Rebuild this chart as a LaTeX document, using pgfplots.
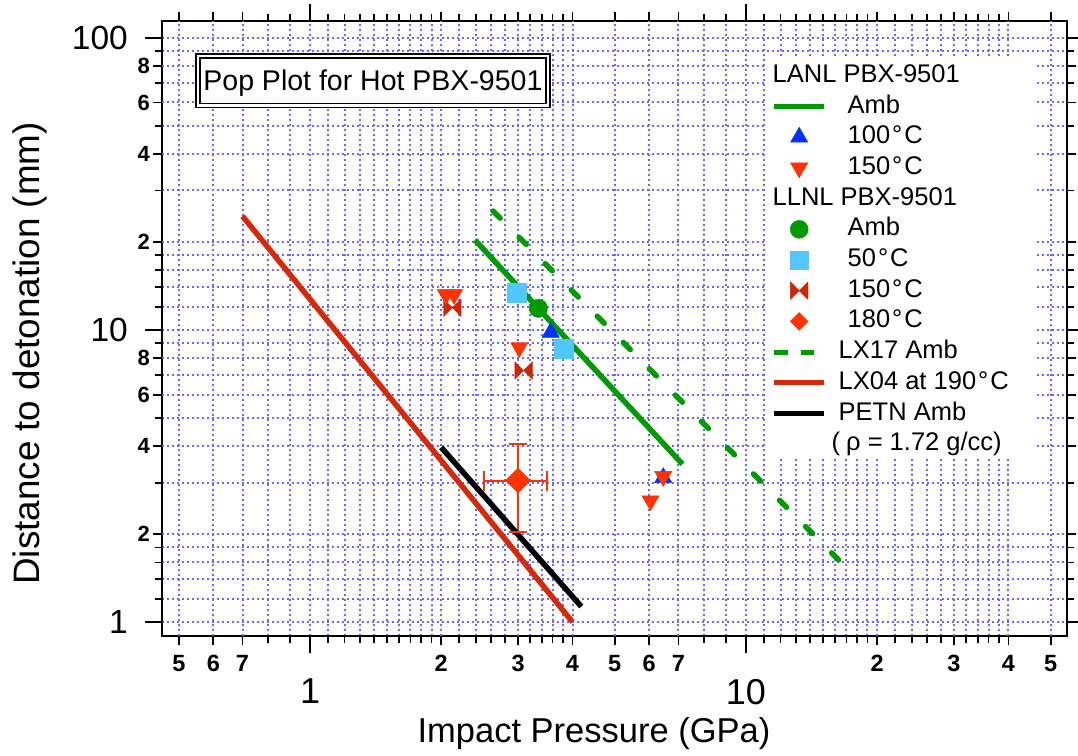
\documentclass[border=0pt]{standalone}
\usepackage{fontspec}
\setmainfont{Liberation Sans}
\usepackage{pgfplots}
\pgfplotsset{compat=1.18}
\usetikzlibrary{plotmarks}
\definecolor{ggreen}{RGB}{0,155,0}
\definecolor{bblue}{RGB}{0,50,255}
\definecolor{rred}{RGB}{255,50,0}
\definecolor{hgred}{RGB}{210,35,5}
\definecolor{lxred}{RGB}{215,40,10}
\definecolor{ccyan}{RGB}{80,200,255}
\definecolor{gridblue}{RGB}{105,105,255}
\pgfdeclareplotmark{bowtie}{%
  \pgfpathmoveto{\pgfqpoint{-\pgfplotmarksize}{-\pgfplotmarksize}}%
  \pgfpathlineto{\pgfqpoint{-\pgfplotmarksize}{\pgfplotmarksize}}%
  \pgfpathlineto{\pgfqpoint{\pgfplotmarksize}{-\pgfplotmarksize}}%
  \pgfpathlineto{\pgfqpoint{\pgfplotmarksize}{\pgfplotmarksize}}%
  \pgfpathclose
  \pgfusepathqfillstroke}
\begin{document}
\begin{tikzpicture}
\useasboundingbox (-162pt,-118.6pt) rectangle (916pt,636.4pt);
\begin{axis}[
  at={(0pt,0pt)}, anchor=south west,
  scale only axis, width=905pt, height=615.7pt,
  xmode=log, ymode=log,
  xmin=0.4575, xmax=54.5, ymin=0.893, ymax=114.3,
  axis line style={line width=2pt},
  tick align=outside,
  major tick length=17pt, minor tick length=7pt,
  every tick/.style={black, line width=1.8pt},
  xtick={1,10}, xticklabels={1,10},
  ytick={1,10,100}, yticklabels={1,10,100},
  minor xtick={0.8,0.9,1.1,1.2,1.3,1.4,1.5,1.6,1.7,1.8,1.9,2.2,2.4,2.6,2.8,3.2,3.4,3.6,3.8,8,9,11,12,13,14,15,16,17,18,19,22,24,26,28,32,34,36,38},
  minor ytick={1.2,1.4,1.6,1.8,3,5,7,9,12,14,16,18,30,50,70,90},
  extra x ticks={0.5,0.6,0.7,2,3,4,5,6,7,20,30,40,50},
  extra x tick labels={5,6,7,2,3,4,5,6,7,2,3,4,5},
  extra y ticks={2,4,6,8,20,40,60,80},
  extra y tick labels={2,4,6,8,2,4,6,8},
  extra x tick style={major tick length=9pt, grid=major,
     xticklabel style={font=\bfseries\fontsize{23.5}{23.5}\selectfont, yshift=16pt}},
  extra y tick style={major tick length=9pt, grid=major,
     yticklabel style={font=\bfseries\fontsize{22}{22}\selectfont, xshift=14pt}},
  grid=both,
  major grid style={gridblue, line width=2pt, dash pattern=on 2pt off 3pt},
  minor grid style={gridblue, line width=2pt, dash pattern=on 2pt off 3pt},
  xticklabel style={font=\fontsize{36}{36}\selectfont, inner sep=0pt, anchor=north, yshift=-25.6pt},
  yticklabel style={font=\fontsize{33.5}{33.5}\selectfont, inner sep=0pt, anchor=east, xshift=-17pt},
  xlabel={Impact Pressure (GPa)}, ylabel={Distance to detonation (mm)},
  xlabel style={font=\fontsize{34.5}{34.5}\selectfont, at={(rel axis cs:0.4773,-0.1731)}, anchor=base, inner sep=0pt},
  ylabel style={font=\fontsize{36.8}{36.8}\selectfont, at={(rel axis cs:-0.1359,0.4595)}, anchor=base, inner sep=0pt},
  legend image code/.code={\draw[mark repeat=2,mark phase=2,#1] plot coordinates {(0pt,0pt) (25pt,0pt) (50pt,0pt)};},
  legend cell align=left,
  legend style={at={(rel axis cs:0.6737,0.9308)}, anchor=north west, draw=none, fill=none,
     inner sep=0pt, outer sep=0pt, font=\fontsize{25.5}{30}\selectfont,
     row sep=5.7pt, column sep=21pt,
     nodes={inner sep=0pt, outer sep=0pt, text height=19pt, text depth=6pt}},
]
% legend entries
\addlegendimage{empty legend}\addlegendentry{\hspace{-75pt}LANL PBX-9501}
\addlegendimage{ggreen, line width=5pt}\addlegendentry{Amb}
\addlegendimage{only marks, mark=triangle*, mark size=10pt, mark options={draw=bblue, fill=bblue}}\addlegendentry{100\kern2pt°\kern2pt C}
\addlegendimage{only marks, mark=triangle*, mark size=10pt, mark options={rotate=180, draw=rred, fill=rred}}\addlegendentry{150\kern2pt°\kern2pt C}
\addlegendimage{empty legend}\addlegendentry{\hspace{-75pt}LLNL PBX-9501}
\addlegendimage{only marks, mark=*, mark size=9pt, mark options={draw=ggreen, fill=ggreen}}\addlegendentry{Amb}
\addlegendimage{only marks, mark=square*, mark size=9pt, mark options={draw=ccyan, fill=ccyan}}\addlegendentry{50\kern2pt°\kern2pt C}
\addlegendimage{only marks, mark=bowtie, mark size=8.8pt, mark options={draw=hgred, fill=hgred}}\addlegendentry{150\kern2pt°\kern2pt C}
\addlegendimage{only marks, mark=square*, mark size=6.3pt, mark options={rotate=45, draw=rred, fill=rred}}\addlegendentry{180\kern2pt°\kern2pt C}
\addlegendimage{ggreen, line width=5pt, dash pattern=on 13.3pt off 13.3pt}\addlegendentry{\hspace{-9pt}LX17 Amb}
\addlegendimage{lxred, line width=5pt}\addlegendentry{\hspace{-9pt}LX04 at 190\kern2pt°\kern2pt C}
\addlegendimage{black, line width=5pt}\addlegendentry{\hspace{-9pt}PETN Amb}
\addlegendimage{empty legend}\addlegendentry{\hspace{-16pt}(\kern6pt ρ = 1.72 g/cc)}

% white boxes
\fill[white] (rel axis cs:0.6674,0.2898) rectangle (rel axis cs:0.9646,0.9427);
\node[draw=black, double=white, line width=1.8pt, double distance=2.2pt, fill=white,
  anchor=north west, outer sep=0pt, inner xsep=5.5pt, inner ysep=0pt,
  minimum height=49.2pt, text height=20pt, text depth=0pt,
  font=\fontsize{28.5}{28.5}\selectfont]
  at (rel axis cs:0.03967,0.9423) {Pop Plot for Hot PBX-9501};

% LLNL 150C hourglass
\addplot[forget plot, only marks, mark=bowtie, mark size=8.8pt, mark options={draw=hgred, fill=hgred}]
  coordinates {(2.12,11.9) (3.09,7.26)};
% LLNL 50C squares
\addplot[forget plot, only marks, mark=square*, mark size=9.5pt, mark options={draw=ccyan, fill=ccyan}]
  coordinates {(2.973,13.42) (3.81,8.63)};
% LANL 100C
\addplot[forget plot, only marks, mark=triangle*, mark size=10pt, mark options={draw=bblue, fill=bblue}]
  coordinates {(3.565,9.8) (6.46,3.12)};
% LANL 150C
\addplot[forget plot, only marks, mark=triangle*, mark size=10pt, mark options={rotate=180, draw=rred, fill=rred}]
  coordinates {(2.05,13.2) (2.14,13.2) (3.02,8.7) (6.46,3.15) (6.04,2.6)};
% LLNL 180C: error bars (x: 2.5-3.5, y: 2.04-4.08) and point
\addplot[forget plot, rred, line width=2pt] coordinates {(2.5,3.05) (3.5,3.05)};
\addplot[forget plot, rred, line width=2pt] coordinates {(3.0,2.04) (3.0,4.08)};
\addplot[forget plot, only marks, mark=|, mark size=10pt, mark options={draw=rred, line width=2pt}]
  coordinates {(2.5,3.05) (3.5,3.05)};
\addplot[forget plot, only marks, mark=-, mark size=9pt, mark options={draw=rred, line width=2pt}]
  coordinates {(3.0,2.04) (3.0,4.08)};
\addplot[forget plot, only marks, mark=square*, mark size=8.8pt, mark options={rotate=45, draw=rred, fill=rred}]
  coordinates {(3.0,3.05)};
% LX17 Amb
\addplot[forget plot, ggreen, line width=5.5pt, line cap=round, dash pattern=on 10pt off 27pt]
  coordinates {(2.63,25.5) (17.1,1.52)};
% LX04 at 190C
\addplot[forget plot, lxred, line width=5.5pt]
  coordinates {(0.70,24.5) (4.0,1.0)};
% PETN
\addplot[forget plot, black, line width=5.5pt]
  coordinates {(2.0,3.96) (4.19,1.13)};
% LANL Amb
\addplot[forget plot, ggreen, line width=5.5pt]
  coordinates {(2.39,20.3) (7.15,3.47)};
% LLNL Amb
\addplot[forget plot, only marks, mark=*, mark size=9.2pt, mark options={draw=ggreen, fill=ggreen}]
  coordinates {(3.34,11.85)};
\end{axis}
\end{tikzpicture}
\end{document}
